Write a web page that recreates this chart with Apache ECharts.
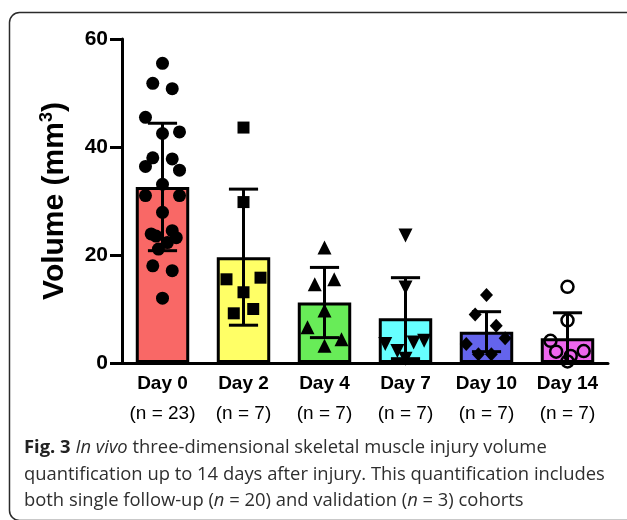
<!DOCTYPE html>
<html>
<head>
<meta charset="utf-8">
<script src="https://cdn.jsdelivr.net/npm/echarts@6/dist/echarts.min.js"></script>
<style>
html,body{margin:0;padding:0;background:#fff;}
#c{width:627px;height:520px;}
</style>
</head>
<body>
<div id="c"></div>
<script>
// ---- data ----
const categories = ['Day 0', 'Day 2', 'Day 4', 'Day 7', 'Day 10', 'Day 14'];
const nLabels = ['(n = 23)', '(n = 7)', '(n = 7)', '(n = 7)', '(n = 7)', '(n = 7)'];
const means = [32.6, 19.6, 11.2, 8.3, 5.8, 4.6];
const sds = [11.8, 12.6, 6.5, 7.5, 3.7, 4.7];
const yTicks = [0, 20, 40, 60];

const day0 = [55.5, 51.8, 50.8, 45.5, 42.8, 42.5, 38.0, 37.8, 36.4, 35.7, 33.1, 31.0, 31.0, 27.9, 24.5, 23.9, 23.5, 23.2, 22.3, 21.1, 18.0, 17.1, 12.0];
const day0Jitter = [0, -0.12, 0.12, -0.21, 0.21, 0, -0.12, 0.12, -0.21, 0.21, 0, -0.21, 0.21, 0, 0.12, -0.14, -0.08, 0.17, 0.06, -0.05, -0.12, 0.12, 0];
const day2 = [43.6, 29.8, 15.8, 15.5, 13.1, 10.0, 9.2];
const day2Jitter = [0, 0, 0.21, -0.21, 0, 0.12, -0.12];
const day4 = [21.4, 15.5, 14.6, 9.7, 6.6, 4.4, 3.2];
const day4Jitter = [0, 0.12, -0.12, 0, -0.21, 0.21, 0];
const day7 = [23.6, 14.0, 4.1, 3.8, 3.5, 2.2, 0.8];
const day7Jitter = [0, 0, 0.23, 0.1, -0.25, -0.1, 0];
const day10 = [12.6, 9.0, 6.9, 4.6, 3.5, 1.6, 1.6];
const day10Jitter = [0, -0.14, 0.12, 0.23, -0.25, -0.1, 0.06];
const day14 = [14.1, 7.9, 4.1, 2.2, 2.1, 1.3, 0.3];
const day14Jitter = [0, 0, -0.21, 0.2, -0.14, 0.04, 0];

const barColors = ['#f96866', '#ffff66', '#68ec58', '#66ffff', '#6464ec', '#ee66ee'];

// ---- build ----
const FONT = '"Liberation Sans", Arial, Helvetica, sans-serif';
function pts(vals, jit, idx) {
  return vals.map((v, k) => [idx + jit[k], v]);
}
const groups = [
  {vals: day0, jit: day0Jitter, symbol: 'circle', size: 13},
  {vals: day2, jit: day2Jitter, symbol: 'rect', size: 12},
  {vals: day4, jit: day4Jitter, symbol: 'triangle', size: 14},
  {vals: day7, jit: day7Jitter, symbol: 'triangle', size: 14, rotate: 180},
  {vals: day10, jit: day10Jitter, symbol: 'diamond', size: [13, 14]},
  {vals: day14, jit: day14Jitter, symbol: 'circle', size: 12, open: true}
];

const scatterSeries = groups.map((g, i) => ({
  type: 'scatter',
  xAxisIndex: 1,
  symbol: g.symbol,
  symbolSize: g.size,
  symbolRotate: g.rotate || 0,
  data: pts(g.vals, g.jit, i),
  itemStyle: g.open ? {color: 'rgba(0,0,0,0)', borderColor: '#000', borderWidth: 2.5, opacity: 1} : {color: '#000', opacity: 1},
  z: 5,
  silent: true,
  animation: false
}));

const chart = echarts.init(document.getElementById('c'), null, {renderer: 'canvas'});
chart.setOption({
  animation: false,
  backgroundColor: '#fff',
  textStyle: {fontFamily: FONT},
  title: {
    left: 24,
    top: 435,
    padding: 0,
    text: '{b|Fig. 3} {i|In vivo} three-dimensional skeletal muscle injury volume\nquantification up to 14 days after injury. This quantification includes\nboth single follow-up ({i|n} = 20) and validation ({i|n} = 3) cohorts',
    textStyle: {
      fontFamily: '"Open Sans", sans-serif',
      fontSize: 18.4,
      fontWeight: 'normal',
      color: '#2e2e2e',
      lineHeight: 26.5,
      rich: {
        b: {fontFamily: '"Open Sans", sans-serif', fontSize: 18.4, fontWeight: 'bold', color: '#222', lineHeight: 26.5},
        i: {fontFamily: '"Open Sans", sans-serif', fontSize: 18.4, fontStyle: 'italic', color: '#2e2e2e', lineHeight: 26.5}
      }
    }
  },
  graphic: [{
    type: 'rect',
    silent: true,
    z: -10,
    shape: {x: 9.5, y: 12.5, width: 640, height: 508, r: 10},
    style: {fill: 'none', stroke: '#2b2b2b', lineWidth: 1.5}
  }],
  grid: {left: 122, right: 19, top: 39, bottom: 157, containLabel: false},
  xAxis: [{
    type: 'category',
    data: categories,
    axisLine: {onZero: false, lineStyle: {color: '#000', width: 3}},
    axisTick: {alignWithLabel: true, length: 12, lineStyle: {color: '#000', width: 3}},
    axisLabel: {
      margin: 6,
      interval: 0,
      formatter: (v, i) => '{a|' + v + '}\n{b|' + nLabels[i] + '}',
      rich: {
        a: {fontFamily: FONT, fontSize: 19, fontWeight: 'bold', color: '#000', lineHeight: 30},
        b: {fontFamily: FONT, fontSize: 19, fontWeight: 'normal', color: '#000', lineHeight: 30}
      }
    },
    splitLine: {show: false}
  }, {
    type: 'value',
    min: -0.5,
    max: 5.5,
    show: false
  }],
  yAxis: {
    type: 'value',
    min: yTicks[0],
    max: yTicks[yTicks.length - 1],
    interval: yTicks[1] - yTicks[0],
    name: '{a|Volume (mm}{s|3}{a|)}',
    nameLocation: 'middle',
    nameRotate: 90,
    nameGap: 50,
    nameTextStyle: {
      fontFamily: FONT,
      fontWeight: 'bold',
      fontSize: 30,
      color: '#000',
      rich: {
        a: {fontFamily: FONT, fontWeight: 'bold', fontSize: 30, color: '#000', lineHeight: 34},
        s: {fontFamily: FONT, fontWeight: 'bold', fontSize: 18, color: '#000', lineHeight: 18, verticalAlign: 'top'}
      }
    },
    axisLine: {show: true, onZero: false, lineStyle: {color: '#000', width: 3}},
    axisTick: {show: true, length: 12, lineStyle: {color: '#000', width: 3}},
    axisLabel: {margin: 14, fontFamily: FONT, fontSize: 21, fontWeight: 'bold', color: '#000'},
    splitLine: {show: false}
  },
  series: [{
    type: 'bar',
    barWidth: '66%',
    data: means.map((m, i) => ({value: m, itemStyle: {color: barColors[i]}})),
    itemStyle: {borderColor: '#000', borderWidth: 3},
    z: 2,
    silent: true
  }, {
    type: 'custom',
    z: 3,
    silent: true,
    data: means.map((m, i) => [i, m, sds[i]]),
    renderItem: function (params, api) {
      const idx = api.value(0), m = api.value(1), sd = api.value(2);
      const lowV = m - sd;
      const hi = api.coord([idx, m + sd]);
      const lo = api.coord([idx, Math.max(0, lowV)]);
      const half = api.size([1, 0])[0] * 0.18;
      const st = {stroke: '#000', lineWidth: 3};
      const kids = [
        {type: 'line', shape: {x1: hi[0], y1: hi[1], x2: lo[0], y2: lo[1]}, style: st},
        {type: 'line', shape: {x1: hi[0] - half, y1: hi[1], x2: hi[0] + half, y2: hi[1]}, style: st}
      ];
      if (lowV > 0) {
        kids.push({type: 'line', shape: {x1: lo[0] - half, y1: lo[1], x2: lo[0] + half, y2: lo[1]}, style: st});
      }
      return {type: 'group', children: kids};
    }
  }].concat(scatterSeries)
});
</script>
</body>
</html>
